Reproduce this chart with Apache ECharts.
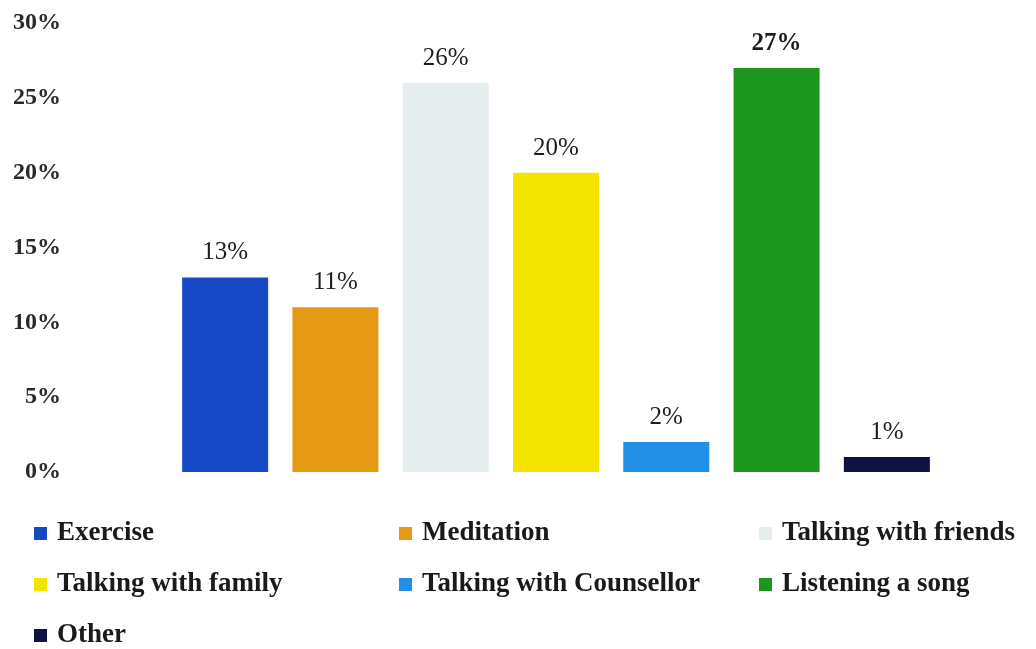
<!DOCTYPE html>
<html>
<head>
<meta charset="utf-8">
<script src="https://cdn.jsdelivr.net/npm/echarts@6/dist/echarts.min.js"></script>
<style>
  html, body { margin: 0; padding: 0; background: #ffffff; }
  #chart { width: 1036px; height: 649px; }
</style>
</head>
<body>
<div id="chart"></div>
<script>
// Coping strategies and their share of respondents (%)
const categories = [
  'Exercise',
  'Meditation',
  'Talking with friends',
  'Talking with family',
  'Talking with Counsellor',
  'Listening a song',
  'Other'
];
const values = [13, 11, 26, 20, 2, 27, 1];
const yTicks = [0, 5, 10, 15, 20, 25, 30];

const barColors = ['#1549c6', '#e69a14', '#e6edef', '#f4e500', '#2290e6', '#1c961c', '#0d1342'];
const serif = '"Liberation Serif", "Times New Roman", serif';

// One series per category so each gets its own legend entry;
// barGap -100% keeps every bar centred on its own category slot.
const series = categories.map((name, i) => ({
  name: name,
  type: 'bar',
  barWidth: '78%',
  barGap: '-100%',
  itemStyle: { color: barColors[i] },
  label: {
    show: true,
    position: 'top',
    distance: 12,
    formatter: '{c}%',
    fontFamily: serif,
    fontSize: 25,
    fontWeight: values[i] === Math.max(...values) ? 'bold' : 'normal',
    color: '#1e1e1e'
  },
  data: categories.map((_, j) => (j === i ? values[i] : '-'))
}));

const legendBase = {
  orient: 'vertical',
  icon: 'rect',
  itemWidth: 13,
  itemHeight: 13,
  itemGap: 24,
  top: 520,
  padding: 0,
  textStyle: {
    fontFamily: serif,
    fontSize: 27,
    lineHeight: 25,
    fontWeight: 'bold',
    color: '#1a1a1a',
    padding: [0, 0, 0, 5]
  }
};

const chart = echarts.init(document.getElementById('chart'));
chart.setOption({
  animation: false,
  backgroundColor: '#ffffff',
  grid: { left: 170, right: 94, top: 23, bottom: 177 },
  xAxis: {
    type: 'category',
    data: categories,
    axisLine: { show: false },
    axisTick: { show: false },
    axisLabel: { show: false }
  },
  yAxis: {
    type: 'value',
    min: yTicks[0],
    max: yTicks[yTicks.length - 1],
    interval: yTicks[1] - yTicks[0],
    axisLine: { show: false },
    axisTick: { show: false },
    splitLine: { show: false },
    axisLabel: {
      margin: 109,
      formatter: '{value}%',
      fontFamily: serif,
      fontSize: 24,
      fontWeight: 'bold',
      color: '#2a2a2a'
    }
  },
  legend: [
    Object.assign({}, legendBase, { left: 34, data: [categories[0], categories[3], categories[6]] }),
    Object.assign({}, legendBase, { left: 399, data: [categories[1], categories[4]] }),
    Object.assign({}, legendBase, { left: 759, data: [categories[2], categories[5]] })
  ],
  series: series
});
</script>
</body>
</html>
